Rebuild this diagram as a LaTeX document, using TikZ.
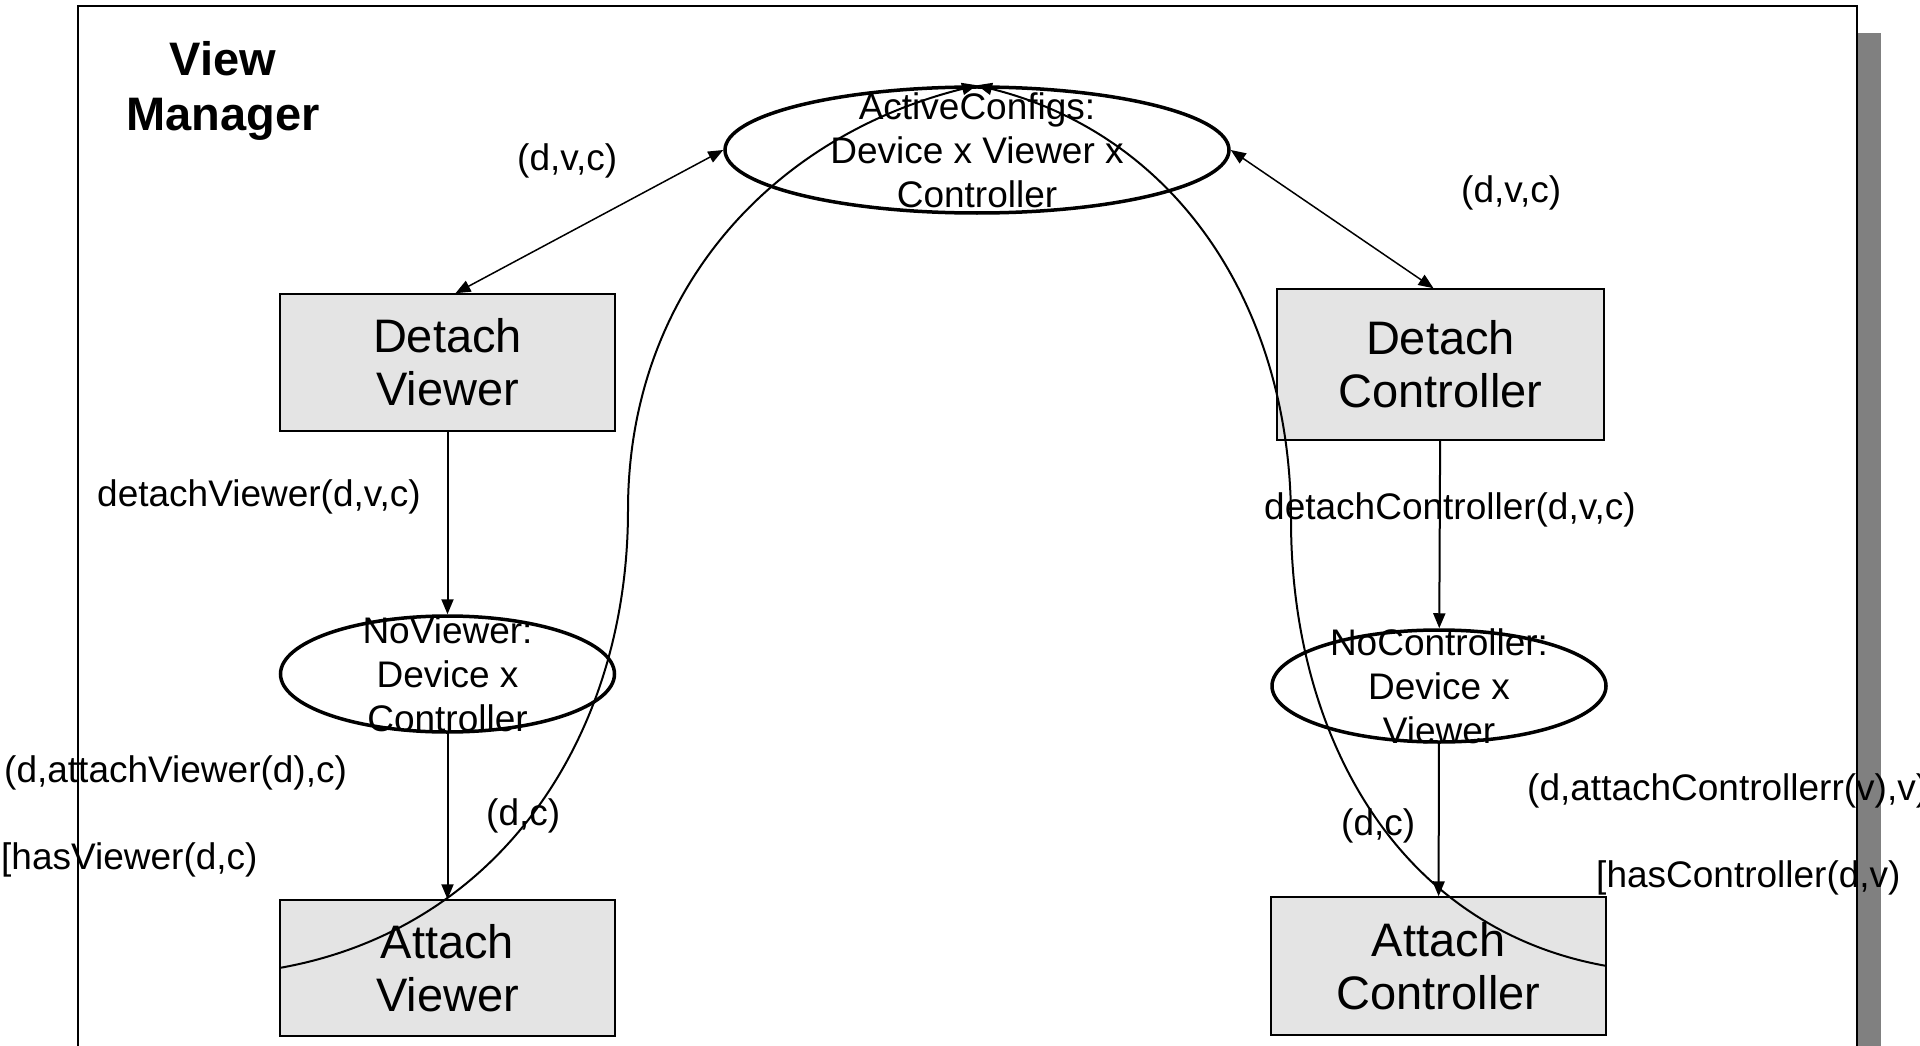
\documentclass[tikz,border=0pt]{standalone}
\usepackage{fontspec}
\setmainfont{Liberation Sans}
\usetikzlibrary{arrows.meta,positioning,shapes.geometric}

\definecolor{boxgray}{HTML}{E4E4E4}
\definecolor{shadowgray}{HTML}{808080}

\begin{document}
\begin{tikzpicture}[
    x=1pt, y=1pt,
    >={Triangle[length=15pt,width=12pt]},
    box_node/.style={draw, line width=1.5pt, fill=boxgray, rectangle, align=center, inner sep=0pt, font=\fontsize{47}{53}\selectfont},
    set_node/.style={draw, ellipse, line width=3.5pt, inner sep=0pt, minimum width=334pt},
    set_text/.style={align=center, inner sep=0pt, font=\fontsize{37}{44}\selectfont},
    lbl/.style={anchor=base west, inner sep=0pt, font=\fontsize{37}{44}\selectfont},
    flow_edge/.style={->, line width=2pt},
    link_edge/.style={<->, line width=1.5pt},
    return_edge/.style={->, line width=2pt}
]
\useasboundingbox (0,0) rectangle (1920,-1046);
\clip (0,0) rectangle (1920,-1046);

% --- FRAME ---
\fill[shadowgray] (102,-33) rectangle (1881,-1100);
\draw[line width=2pt, fill=white] (78,-6) rectangle (1857,-1080);
\node[font=\bfseries\fontsize{47}{55}\selectfont, align=center] (title) at (223,-91) {View\\Manager};

% --- NODES ---

% Central state
\node[set_node, minimum width=504pt, minimum height=126pt,
      label={[set_text]center:{ActiveConfigs:\\Device x Viewer x\\Controller}}] (active) at (977,-150) {};

% Viewer side
\node[box_node, minimum width=335pt, minimum height=137pt] (detach_viewer) at (447.5,-362.5) {Detach\\Viewer};
\node[set_node, minimum height=116pt,
      label={[set_text]center:{NoViewer:\\Device x\\Controller}}] (no_viewer) at (447.5,-674) {};
\node[box_node, minimum width=335pt, minimum height=136pt] (attach_viewer) at (447.5,-968) {Attach\\Viewer};

% Controller side
\node[box_node, minimum width=327pt, minimum height=151pt] (detach_controller) at (1440.5,-364.5) {Detach\\Controller};
\node[set_node, minimum height=112pt,
      label={[set_text]center:{NoController:\\Device x\\Viewer}}] (no_controller) at (1439,-686) {};
\node[box_node, minimum width=335pt, minimum height=138pt] (attach_controller) at (1438.5,-966) {Attach\\Controller};

% Turning points of the return arcs
\coordinate (turn_v) at (628,-510);
\coordinate (turn_c) at (1291,-520);

% --- EDGES ---

% 1. Active configs <-> detach
\draw[link_edge] (active.west) -- ([xshift=8pt]detach_viewer.north);
\draw[link_edge] (active.east) -- ([xshift=-7pt]detach_controller.north);

% 2. Detach -> partial state -> attach
\draw[flow_edge] (detach_viewer) -- (no_viewer);
\draw[flow_edge] (no_viewer) -- (attach_viewer);
\draw[flow_edge] (detach_controller) -- (no_controller);
\draw[flow_edge] (no_controller) -- (attach_controller);

% 3. Attach back to active configs
\draw[return_edge] (attach_viewer.west) to[out=10, in=-90] (turn_v) to[out=90, in=194] (active.north);
\draw[return_edge] (attach_controller.east) to[out=170, in=-90] (turn_c) to[out=90, in=-14] (active.north);

% --- LABELS ---
\node[lbl] (lbl_dvc_v) at (517,-171) {(d,v,c)};
\node[lbl] (lbl_dvc_c) at (1461,-202) {(d,v,c)};
\node[lbl] (lbl_detach_v) at (97,-506) {detachViewer(d,v,c)};
\node[lbl] (lbl_detach_c) at (1264,-519) {detachController(d,v,c)};
\node[lbl] (lbl_attach_v) at (4,-782) {(d,attachViewer(d),c)};
\node[lbl] (lbl_guard_v) at (1,-869) {[hasViewer(d,c)};
\node[lbl] (lbl_dc_v) at (486,-825) {(d,c)};
\node[lbl] (lbl_dc_c) at (1341,-835) {(d,c)};
\node[lbl] (lbl_attach_c) at (1527,-800) {(d,attachControllerr(v),v)};
\node[lbl] (lbl_guard_c) at (1596,-887) {[hasController(d,v)};

\end{tikzpicture}
\end{document}
